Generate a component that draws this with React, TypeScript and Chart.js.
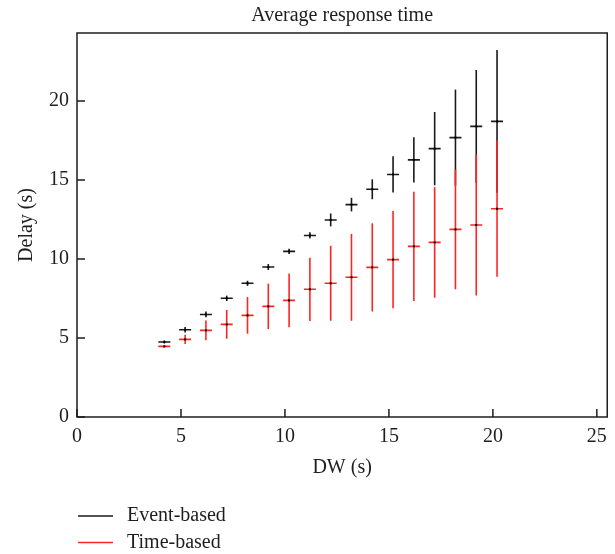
import React, { useEffect, useRef } from "react";
import { Chart, registerables } from "chart.js";

Chart.register(...registerables);

const TITLE = "Average response time";
const X_LABEL = "DW (s)";
const Y_LABEL = "Delay (s)";
const SERIES_NAMES = ["Event-based", "Time-based"];

const dw = [4.2, 5.2, 6.2, 7.2, 8.2, 9.2, 10.2, 11.2, 12.2, 13.2, 14.2, 15.2, 16.2, 17.2, 18.2, 19.2, 20.2];
const eventMean = [4.75, 5.52, 6.49, 7.51, 8.46, 9.49, 10.48, 11.49, 12.47, 13.44, 14.41, 15.35, 16.27, 16.98, 17.68, 18.39, 18.71];
const eventErr = [0.1, 0.17, 0.18, 0.17, 0.16, 0.19, 0.17, 0.2, 0.41, 0.43, 0.63, 1.15, 1.43, 2.32, 3.04, 3.57, 4.52];
const timeMean = [4.47, 4.91, 5.48, 5.86, 6.43, 7.0, 7.38, 8.08, 8.46, 8.84, 9.47, 9.96, 10.8, 11.05, 11.87, 12.15, 13.18];
const timeErr = [0.08, 0.29, 0.62, 0.91, 1.16, 1.44, 1.7, 2.0, 2.37, 2.75, 2.79, 3.08, 3.46, 3.5, 3.79, 4.46, 4.31];

const X_MIN = 0;
const X_MAX = 25.5;
const Y_MIN = 0;
const Y_MAX = 24.3;
const TICK_STEP = 5;

const FONT = "'Liberation Serif', 'Times New Roman', serif";
const TEXT = "#1e1e1e";
const BLACK = "#1a1a1a";
const RED = "#ff2424";
const SERIES_COLORS = [BLACK, RED];

const decor = {
  id: "decor",
  beforeDatasetsDraw(chart: any) {
    const { ctx, scales } = chart;
    const x = scales.x;
    const y = scales.y;
    ctx.save();
    const bars = (mean: number[], err: number[], color: string) => {
      ctx.strokeStyle = color;
      ctx.lineWidth = 1.6;
      dw.forEach((d, i) => {
        const px = x.getPixelForValue(d);
        ctx.beginPath();
        ctx.moveTo(px, y.getPixelForValue(mean[i] - err[i]));
        ctx.lineTo(px, y.getPixelForValue(mean[i] + err[i]));
        ctx.stroke();
      });
    };
    bars(eventMean, eventErr, BLACK);
    bars(timeMean, timeErr, RED);
    ctx.restore();
  },
  afterDatasetsDraw(chart: any) {
    const { ctx, scales } = chart;
    const x = scales.x;
    const y = scales.y;
    ctx.save();
    ctx.fillStyle = "#000";
    [eventMean, timeMean].forEach((mean) => {
      dw.forEach((d, i) => {
        const px = x.getPixelForValue(d);
        const py = y.getPixelForValue(mean[i]);
        ctx.fillRect(px - 1, py - 1, 2, 2);
      });
    });
    ctx.restore();
  },
  afterDraw(chart: any) {
    const { ctx, chartArea: a, scales } = chart;
    const x = scales.x;
    const y = scales.y;
    ctx.save();
    // frame
    ctx.strokeStyle = TEXT;
    ctx.lineWidth = 1.5;
    ctx.strokeRect(a.left, a.top, a.right - a.left, a.bottom - a.top);
    // inward ticks
    ctx.beginPath();
    x.ticks.forEach((t: any) => {
      const px = x.getPixelForValue(t.value);
      ctx.moveTo(px, a.bottom);
      ctx.lineTo(px, a.bottom - 8);
    });
    y.ticks.forEach((t: any) => {
      const py = y.getPixelForValue(t.value);
      ctx.moveTo(a.left, py);
      ctx.lineTo(a.left + 8, py);
    });
    ctx.stroke();
    // title
    ctx.fillStyle = TEXT;
    ctx.font = `20px ${FONT}`;
    ctx.textAlign = "center";
    ctx.textBaseline = "middle";
    ctx.fillText(TITLE, (a.left + a.right) / 2, 16);
    // legend
    ctx.textAlign = "left";
    SERIES_NAMES.forEach((name, i) => {
      const ly = 516 + i * 26.5;
      ctx.strokeStyle = SERIES_COLORS[i];
      ctx.lineWidth = 1.6;
      ctx.beginPath();
      ctx.moveTo(78, ly);
      ctx.lineTo(113, ly);
      ctx.stroke();
      ctx.fillStyle = TEXT;
      ctx.fillText(name, 127, ly);
    });
    ctx.restore();
  },
};

export default function App() {
  const ref = useRef<HTMLCanvasElement>(null);
  useEffect(() => {
    if (!ref.current) return;
    const chart = new Chart(ref.current, {
      type: "scatter",
      data: {
        datasets: [
          {
            label: SERIES_NAMES[0],
            data: dw.map((d, i) => ({ x: d, y: eventMean[i] })),
            pointStyle: "line",
            pointRadius: 6,
            borderColor: BLACK,
            backgroundColor: BLACK,
            borderWidth: 1.6,
            showLine: false,
          },
          {
            label: SERIES_NAMES[1],
            data: dw.map((d, i) => ({ x: d, y: timeMean[i] })),
            pointStyle: "line",
            pointRadius: 6,
            borderColor: RED,
            backgroundColor: RED,
            borderWidth: 1.6,
            showLine: false,
          },
        ],
      },
      options: {
        animation: false,
        responsive: false,
        devicePixelRatio: 1,
        events: [],
        layout: { padding: { top: 33, right: 6, left: 0, bottom: 0 } },
        plugins: {
          legend: { display: false },
          tooltip: { enabled: false },
          title: { display: false },
        },
        scales: {
          x: {
            type: "linear",
            min: X_MIN,
            max: X_MAX,
            grid: { display: false, drawTicks: false },
            border: { display: false },
            ticks: {
              stepSize: TICK_STEP,
              includeBounds: false,
              padding: 8,
              color: TEXT,
              maxRotation: 0,
              font: { family: FONT, size: 20 },
            },
            title: {
              display: true,
              text: X_LABEL,
              color: TEXT,
              font: { family: FONT, size: 20 },
              padding: { top: 0, bottom: 74 },
            },
            afterFit: (s: any) => {
              s.height = 137;
            },
          },
          y: {
            type: "linear",
            min: Y_MIN,
            max: Y_MAX,
            grid: { display: false, drawTicks: false },
            border: { display: false },
            ticks: {
              stepSize: TICK_STEP,
              includeBounds: false,
              padding: 8,
              color: TEXT,
              font: { family: FONT, size: 20 },
            },
            title: {
              display: true,
              text: Y_LABEL,
              color: TEXT,
              font: { family: FONT, size: 20 },
              padding: { top: 15, bottom: 0 },
            },
            afterFit: (s: any) => {
              s.width = 77;
            },
          },
        },
      },
      plugins: [decor],
    });
    return () => chart.destroy();
  }, []);
  return (
    <div style={{ position: "fixed", left: 0, top: 0, width: 615, height: 554, background: "#fff" }}>
      <canvas ref={ref} width={615} height={554} style={{ width: 615, height: 554, display: "block" }} />
    </div>
  );
}
